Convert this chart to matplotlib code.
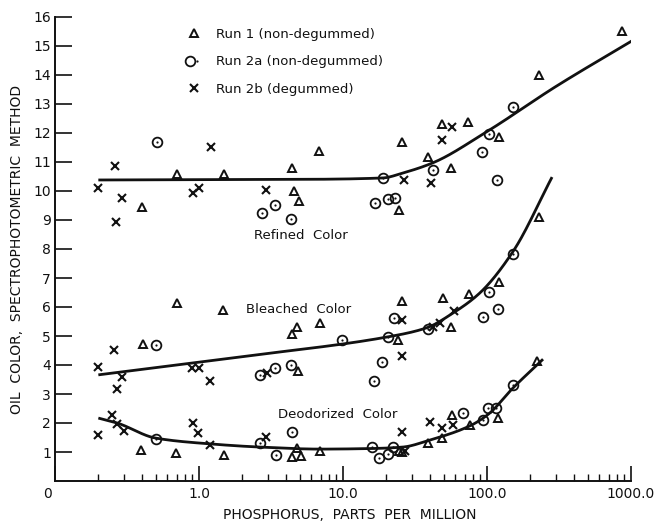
import numpy as np
import matplotlib
matplotlib.use("Agg")
import matplotlib.pyplot as plt
from matplotlib.lines import Line2D
from matplotlib.legend_handler import HandlerTuple
from matplotlib.ticker import FixedLocator, NullFormatter
import matplotlib.transforms as mtransforms

# ---------------- data ----------------
# Refined colour
ref_run1_x = [0.40, 0.70, 1.49, 4.42, 4.6, 4.94, 6.8, 24.5, 25.7, 38.9, 48.7, 56.2, 73.8, 121, 230, 869]
ref_run1_y = [9.45, 10.59, 10.6, 10.79, 10.0, 9.66, 11.38, 9.34, 11.69, 11.17, 12.31, 10.79, 12.38, 11.86, 14.0, 15.5]
ref_run2a_x = [0.51, 2.74, 3.37, 4.36, 16.7, 18.9, 20.5, 23.0, 42.2, 92.3, 103, 117, 151]
ref_run2a_y = [11.69, 9.24, 9.52, 9.03, 9.59, 10.45, 9.72, 9.76, 10.72, 11.34, 11.97, 10.38, 12.90]
ref_run2b_x = [0.20, 0.26, 0.265, 0.29, 0.91, 1.0, 1.21, 2.92, 26.5, 40.8, 48.7, 57.0]
ref_run2b_y = [10.1, 10.86, 8.93, 9.76, 9.93, 10.1, 11.52, 10.03, 10.38, 10.26, 11.76, 12.22]

# Bleached colour
ble_run1_x = [0.41, 0.70, 1.47, 4.42, 4.8, 4.87, 6.9, 24.1, 25.7, 49.5, 56.2, 75, 121, 230]
ble_run1_y = [4.72, 6.14, 5.9, 5.07, 5.31, 3.79, 5.45, 4.86, 6.21, 6.31, 5.31, 6.45, 6.86, 9.1]
ble_run2a_x = [0.50, 2.65, 3.37, 4.35, 9.84, 16.4, 18.7, 20.5, 22.6, 38.9, 93.8, 103, 119, 151]
ble_run2a_y = [4.69, 3.66, 3.9, 4.0, 4.86, 3.45, 4.1, 4.97, 5.62, 5.24, 5.66, 6.52, 5.93, 7.83]
ble_run2b_x = [0.20, 0.257, 0.27, 0.29, 0.89, 1.0, 1.19, 2.96, 25.7, 25.7, 42, 47.2, 59]
ble_run2b_y = [3.93, 4.52, 3.17, 3.59, 3.9, 3.9, 3.45, 3.72, 5.55, 4.31, 5.31, 5.45, 5.86]

# Deodorized colour
deo_run1_x = [0.395, 0.69, 1.49, 4.42, 4.8, 5.1, 6.9, 24.5, 25.7, 38.9, 48.7, 57, 76, 119, 222]
deo_run1_y = [1.07, 0.97, 0.9, 0.83, 1.14, 0.86, 1.03, 1.03, 1.0, 1.31, 1.48, 2.28, 1.93, 2.17, 4.14]
deo_run2a_x = [0.50, 2.65, 3.43, 4.42, 15.9, 17.8, 20.5, 22.2, 68, 93.8, 102, 115, 151]
deo_run2a_y = [1.45, 1.31, 0.9, 1.69, 1.17, 0.79, 0.93, 1.17, 2.34, 2.1, 2.52, 2.52, 3.31]
deo_run2b_x = [0.2, 0.25, 0.27, 0.30, 0.91, 0.98, 1.19, 2.92, 25.7, 27, 40, 48.7, 58]
deo_run2b_y = [1.59, 2.28, 1.97, 1.72, 2.0, 1.66, 1.24, 1.52, 1.69, 1.03, 2.03, 1.83, 1.93]

# Hand-drawn trend curves (nodes)
ref_curve_x = [0.2, 5, 18.9, 26, 42, 100, 300, 1066]
ref_curve_y = [10.38, 10.4, 10.45, 10.62, 10.97, 12.05, 13.6, 15.24]
ble_curve_x = [0.2, 1.93, 20.5, 38, 58, 89, 151, 283]
ble_curve_y = [3.66, 4.28, 4.97, 5.28, 5.79, 6.48, 7.9, 10.48]
deo_curve_x = [0.2, 0.27, 0.5, 1.19, 2.65, 6.9, 15.9, 26, 40, 76, 102, 151, 245]
deo_curve_y = [2.17, 2.0, 1.48, 1.28, 1.17, 1.1, 1.12, 1.17, 1.41, 1.9, 2.3, 3.2, 4.2]

legend_labels = ["Run 1 (non-degummed)", "Run 2a (non-degummed)", "Run 2b (degummed)"]
curve_labels = ["Refined  Color", "Bleached  Color", "Deodorized  Color"]
x_tick_vals = [0.1, 1, 10, 100, 1000]
x_tick_labels = ["0", "1.0", "10.0", "100.0", "1000.0"]
y_tick_vals = list(range(1, 17))


def pchip(x, y, xn):
    x = np.asarray(x, float); y = np.asarray(y, float)
    h = np.diff(x); d = np.diff(y) / h
    n = len(x); m = np.zeros(n)
    m[0] = d[0]; m[-1] = d[-1]
    for k in range(1, n - 1):
        if d[k - 1] * d[k] <= 0:
            m[k] = 0.0
        else:
            w1 = 2 * h[k] + h[k - 1]; w2 = h[k] + 2 * h[k - 1]
            m[k] = (w1 + w2) / (w1 / d[k - 1] + w2 / d[k])
    idx = np.clip(np.searchsorted(x, xn) - 1, 0, n - 2)
    t = (xn - x[idx]) / h[idx]
    h00 = 2 * t**3 - 3 * t**2 + 1; h10 = t**3 - 2 * t**2 + t
    h01 = -2 * t**3 + 3 * t**2; h11 = t**3 - t**2
    return h00 * y[idx] + h10 * h[idx] * m[idx] + h01 * y[idx + 1] + h11 * h[idx] * m[idx + 1]


def smooth_curve(cx, cy):
    lx = np.log10(cx)
    xs = np.linspace(lx[0], lx[-1], 400)
    return 10 ** xs, pchip(lx, cy, xs)


fig = plt.figure(figsize=(6.56, 5.24), dpi=100)
ax = fig.add_axes([55 / 656, 43 / 524, 576 / 656, 464 / 524])
ax.set_xscale("log")
ax.set_xlim(0.1, 1000)
ax.set_ylim(0, 16)

ink = "#111111"
tri_kw = dict(linestyle="none", marker="^", markersize=6, mfc="none", mec=ink, mew=1.4)
cir_kw = dict(linestyle="none", marker="o", markersize=7, mfc="none", mec=ink, mew=1.3)
dot_kw = dict(linestyle="none", marker="o", markersize=1.6, mfc=ink, mec=ink, mew=0)
x_kw = dict(linestyle="none", marker="x", markersize=5.5, mec=ink, mew=1.5)

for cx, cy in [(ref_curve_x, ref_curve_y), (ble_curve_x, ble_curve_y), (deo_curve_x, deo_curve_y)]:
    sx, sy = smooth_curve(cx, cy)
    ax.plot(sx, sy, color=ink, lw=2.0, solid_capstyle="butt", zorder=2)

for xs, ys in [(ref_run1_x, ref_run1_y), (ble_run1_x, ble_run1_y), (deo_run1_x, deo_run1_y)]:
    ax.plot(xs, ys, zorder=3, **tri_kw)
for xs, ys in [(ref_run2a_x, ref_run2a_y), (ble_run2a_x, ble_run2a_y), (deo_run2a_x, deo_run2a_y)]:
    ax.plot(xs, ys, zorder=3, **cir_kw)
    ax.plot(xs, ys, zorder=3, **dot_kw)
for xs, ys in [(ref_run2b_x, ref_run2b_y), (ble_run2b_x, ble_run2b_y), (deo_run2b_x, deo_run2b_y)]:
    ax.plot(xs, ys, zorder=3, **x_kw)

fs = 9.5
ax.text(2.41, 8.48, curve_labels[0], fontsize=fs, va="center", ha="left", color=ink)
ax.text(2.12, 5.93, curve_labels[1], fontsize=fs, va="center", ha="left", color=ink)
ax.text(3.54, 2.31, curve_labels[2], fontsize=fs, va="center", ha="left", color=ink)

# legend
h1 = Line2D([], [], **tri_kw)
h2 = (Line2D([], [], **cir_kw), Line2D([], [], **dot_kw))
h3 = Line2D([], [], **x_kw)
leg = ax.legend([h1, h2, h3], legend_labels, loc="upper left",
                bbox_to_anchor=(187 / 656, (524 - 28) / 524), bbox_transform=fig.transFigure,
                frameon=False, fontsize=fs, handlelength=1.0, handletextpad=1.2,
                labelspacing=1.08, borderpad=0, borderaxespad=0,
                handler_map={tuple: HandlerTuple(ndivide=None, pad=0)})
for t in leg.get_texts():
    t.set_color(ink)

# spines
ax.spines["top"].set_visible(False)
ax.spines["right"].set_visible(False)
for s in ("left", "bottom"):
    ax.spines[s].set_linewidth(1.4)
    ax.spines[s].set_color(ink)

ax.yaxis.set_major_locator(FixedLocator(y_tick_vals))
ax.set_yticklabels([str(v) for v in y_tick_vals])
ax.tick_params(axis="y", direction="in", length=12, width=1.2, pad=3, labelsize=10, colors=ink)

ax.xaxis.set_major_locator(FixedLocator(x_tick_vals))
ax.set_xticklabels(x_tick_labels)
minor = [m * 10.0 ** e for e in range(-1, 3) for m in range(2, 10)]
ax.xaxis.set_minor_locator(FixedLocator(minor))
ax.xaxis.set_minor_formatter(NullFormatter())
ax.tick_params(axis="x", which="major", direction="in", length=11, width=1.2, pad=4, labelsize=10, colors=ink)
ax.tick_params(axis="x", which="minor", direction="in", length=5, width=1.0, colors=ink)
lbl0 = ax.get_xticklabels()[0]
lbl0.set_transform(lbl0.get_transform() + mtransforms.ScaledTranslation(-8 / 100, 0, fig.dpi_scale_trans))

ax.set_xlabel("PHOSPHORUS,  PARTS  PER  MILLION", fontsize=10, color=ink)
ax.xaxis.set_label_coords((350 - 55) / 576, (481 - 515) / 464)
ax.xaxis.label.set_va("center")
ax.set_ylabel("OIL  COLOR,  SPECTROPHOTOMETRIC  METHOD", fontsize=10, color=ink)
ax.yaxis.set_label_coords((17 - 55) / 576, (481 - 249) / 464)
ax.yaxis.label.set_va("center")

fig.savefig("out.png", dpi=100)
